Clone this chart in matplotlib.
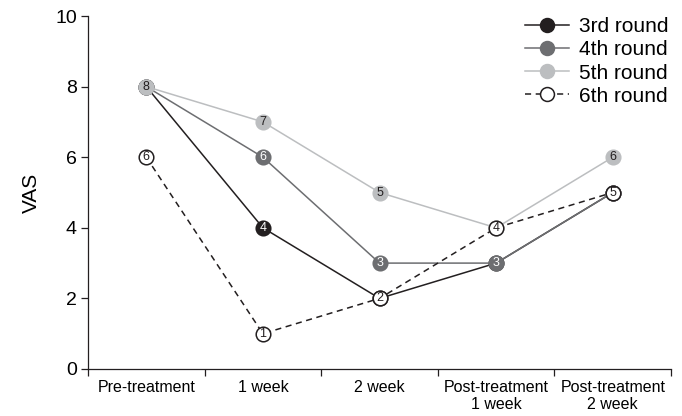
import matplotlib
matplotlib.use('Agg')
import matplotlib.pyplot as plt
from matplotlib.lines import Line2D

plt.rcParams['font.family'] = ['Liberation Sans', 'DejaVu Sans']

# Data
categories = ['Pre-treatment', '1 week', '2 week', 'Post-treatment\n1 week', 'Post-treatment\n2 week']
rounds = ['3rd round', '4th round', '5th round', '6th round']
vas_3rd = [8, 4, 2, 3, 5]
vas_4th = [8, 6, 3, 3, 5]
vas_5th = [8, 7, 5, 4, 6]
vas_6th = [6, 1, 2, 4, 5]

# Styles: (line colour, marker face, marker edge, number colour, linestyle)
styles = [
    ('#231f20', '#231f20', '#231f20', 'white', '-'),
    ('#6d6e71', '#6d6e71', '#6d6e71', 'white', '-'),
    ('#bcbec0', '#bcbec0', '#bcbec0', '#231f20', '-'),
    ('#231f20', 'white', '#231f20', '#231f20', (0, (4, 3))),
]


def main():
    fig = plt.figure(figsize=(6.82, 4.16), dpi=100)
    ax = fig.add_axes([0.129, 0.113, 0.855, 0.8485])

    x = list(range(len(categories)))
    series = [vas_3rd, vas_4th, vas_5th, vas_6th]
    handles = []
    for i, (vals, st) in enumerate(zip(series, styles)):
        lc, mfc, mec, tc, ls = st
        z = 3 + i * 2
        ax.plot(x, vals, color=lc, lw=1.1, ls=ls, zorder=z, clip_on=False)
        ax.plot(x, vals, ls='none', marker='o', ms=10.5, mfc=mfc, mec=mec,
                mew=1.1, zorder=z + 0.5, clip_on=False)
        for xi, v in zip(x, vals):
            ax.text(xi, v, str(v), ha='center', va='center', fontsize=9,
                    color=tc, zorder=z + 1)
        handles.append(Line2D([0], [0], color=lc, lw=1.1, ls=ls, marker='o',
                              ms=10, mfc=mfc, mec=mec, mew=1.1))

    ax.set_xlim(-0.5, len(categories) - 0.5)
    ax.set_ylim(0, 10)
    ax.set_yticks([0, 2, 4, 6, 8, 10])
    ax.set_xticks([i - 0.5 for i in range(len(categories) + 1)])
    ax.set_xticklabels([])
    ax.set_xticks(x, minor=True)
    ax.set_xticklabels(categories, minor=True, fontsize=11.5, linespacing=1.15)
    ax.tick_params(axis='x', which='minor', length=0, pad=8)
    ax.tick_params(axis='x', which='major', length=5, width=0.9, color='#231f20')
    ax.tick_params(axis='y', length=5, width=0.9, labelsize=14, pad=3, color='#231f20')
    ax.set_ylabel('VAS', fontsize=15, labelpad=10)

    for s in ['top', 'right']:
        ax.spines[s].set_visible(False)
    for s in ['left', 'bottom']:
        ax.spines[s].set_linewidth(0.9)
        ax.spines[s].set_color('#231f20')

    ax.legend(handles, rounds, loc='upper right', bbox_to_anchor=(1.01, 1.02),
              frameon=False, fontsize=15, handlelength=2.1, handletextpad=0.5,
              labelspacing=0.2, borderaxespad=0)

    fig.savefig('out.png', dpi=100)


if __name__ == '__main__':
    main()
